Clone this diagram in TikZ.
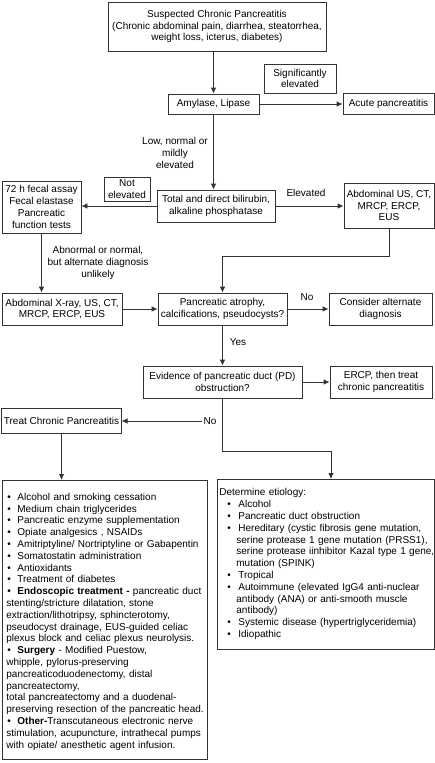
\documentclass[tikz,border=0pt]{standalone}
\usepackage{fontspec}
\setmainfont{Liberation Sans}
\usetikzlibrary{arrows.meta}
\newcommand\tbul{\hspace*{1pt}\makebox[10pt][l]{•}}
\newcommand\ebul{\hspace*{8pt}\makebox[11pt][l]{•}}
\newcommand\eind{\hspace*{17pt}}
\begin{document}
\begin{tikzpicture}[x=1pt,y=-1pt,
  txt/.style={font=\fontsize{10}{11.8}\selectfont},
  box/.style={txt, draw=black!80, line width=0.8pt, align=center, inner sep=2pt},
  lbl/.style={txt, align=center, inner sep=1pt},
  arr/.style={draw=black!80, line width=0.8pt, -{Latex[length=6pt,width=5.5pt]}},
  ln/.style={draw=black!80, line width=0.8pt}]
\useasboundingbox (0,0) rectangle (435,763);

\node[box, minimum width=218pt, minimum height=49pt] (top) at (217,26.5)
  {Suspected Chronic Pancreatitis\\(Chronic abdominal pain, diarrhea, steatorrhea,\\weight loss, icterus, diabetes)};
\node[box, minimum width=91pt, minimum height=20pt] (amy) at (213.5,104) {Amylase, Lipase};
\node[box, minimum width=72pt, minimum height=29pt] (sig) at (300,78.5) {Significantly\\elevated};
\node[box, minimum width=91pt, minimum height=21pt] (acute) at (388.5,104) {Acute pancreatitis};
\node[lbl] (low) at (175,153) {Low, normal or\\mildly\\elevated};
\node[box, minimum width=118pt, minimum height=32pt] (bil) at (216,206) {Total and direct bilirubin,\\alkaline phosphatase};
\node[box, minimum width=46pt, minimum height=24pt] (notel) at (127,189) {Not\\elevated};
\node[box, minimum width=79pt, minimum height=52pt] (fecal) at (41.5,207) {72 h fecal assay\\Fecal elastase\\Pancreatic\\function tests};
\node[lbl] (elev) at (306,193) {Elevated};
\node[box, minimum width=90pt, minimum height=45pt] (abdus) at (389,205.5) {Abdominal US, CT,\\MRCP, ERCP,\\EUS};
\node[lbl] (abn) at (98,263) {Abnormal or normal,\\but alternate diagnosis\\unlikely};
\node[box, minimum width=120pt, minimum height=32pt] (xray) at (62,309) {Abdominal X-ray, US, CT,\\MRCP, ERCP, EUS};
\node[box, minimum width=129pt, minimum height=32pt] (atro) at (222.5,309) {Pancreatic atrophy,\\calcifications, pseudocysts?};
\node[box, minimum width=103pt, minimum height=32pt] (cons) at (380.5,309) {Consider alternate\\diagnosis};
\node[lbl] (no1) at (307,297) {No};
\node[lbl] (yes) at (238,342) {Yes};
\node[box, minimum width=159pt, minimum height=32pt] (evid) at (222.5,382) {Evidence of pancreatic duct (PD)\\obstruction?};
\node[box, minimum width=102pt, minimum height=32pt] (ercp) at (381,382) {ERCP, then treat\\chronic pancreatitis};
\node[box, minimum width=119pt, minimum height=25pt] (tcp) at (61.5,420.5) {Treat Chronic Pancreatitis};
\node[lbl] (no2) at (210,421) {No};

\node[box, align=left, anchor=north west, text width=197pt, inner xsep=4pt, inner ysep=0pt, minimum height=279pt] (tx) at (2,480) {%
\begin{tabular}{@{}l@{}}
\rule{0pt}{12pt}\tbul Alcohol and smoking cessation\\
\tbul Medium chain triglycerides\\
\tbul Pancreatic enzyme supplementation\\
\tbul Opiate analgesics , NSAIDs\\
\tbul Amitriptyline/ Nortriptyline or Gabapentin\\
\tbul Somatostatin administration\\
\tbul Antioxidants\\
\tbul Treatment of diabetes\\
\tbul\textbf{Endoscopic treatment -} pancreatic duct\\
stenting/stricture dilatation, stone\\
extraction/lithotripsy, sphincterotomy,\\
pseudocyst drainage, EUS-guided celiac\\
plexus block and celiac plexus neurolysis.\\
\tbul\textbf{Surgery} - Modified Puestow,\\
whipple, pylorus-preserving\\
pancreaticoduodenectomy, distal\\
pancreatectomy,\\
total pancreatectomy and a duodenal-\\
preserving resection of the pancreatic head.\\
\tbul\textbf{Other-}Transcutaneous electronic nerve\\
stimulation, acupuncture, intrathecal pumps\\
with opiate/ anesthetic agent infusion.
\end{tabular}};

\node[box, align=left, anchor=north west, text width=213pt, inner xsep=2pt, inner ysep=0pt, minimum height=170pt] (etio) at (217,479) {%
\begin{tabular}{@{}l@{}}
Determine etiology:\\
\ebul Alcohol\\
\ebul Pancreatic duct obstruction\\
\ebul Hereditary (cystic fibrosis gene mutation,\\
\eind serine protease 1 gene mutation (PRSS1),\\
\eind serine protease iinhibitor Kazal type 1 gene,\\
\eind mutation (SPINK)\\
\ebul Tropical\\
\ebul Autoimmune (elevated IgG4 anti-nuclear\\
\eind antibody (ANA) or anti-smooth muscle\\
\eind antibody)\\
\ebul Systemic disease (hypertriglyceridemia)\\
\ebul Idiopathic
\end{tabular}};

\coordinate (j1) at (222.5,256);
\coordinate (j2) at (222.5,451);
\coordinate (j3) at (331,451);

\draw[arr] (amy.north |- top.south) -- (amy.north);
\draw[arr] (amy.east) -- (amy.east -| acute.west);
\draw[arr] (amy.south) -- (amy.south |- bil.north);
\draw[arr] (bil.west) -- (bil.west -| fecal.east);
\draw[arr] (bil.east) -- (bil.east -| abdus.west);
\draw[arr] (abdus.south) |- (j1) -- (atro.north);
\draw[arr] (fecal.south) -- (fecal.south |- xray.north);
\draw[arr] (xray.east) -- (atro.west);
\draw[arr] (atro.east) -- (cons.west);
\draw[arr] (atro.south) -- (evid.north);
\draw[arr] (evid.east) -- (ercp.west);
\draw[arr] (evid.south) -- (j2) -- (j3) -- (j3 |- etio.north);
\draw[arr] (no2.west) -- (no2.west -| tcp.east);
\draw[arr] (tcp.south) -- (tcp.south |- tx.north);
\end{tikzpicture}
\end{document}
